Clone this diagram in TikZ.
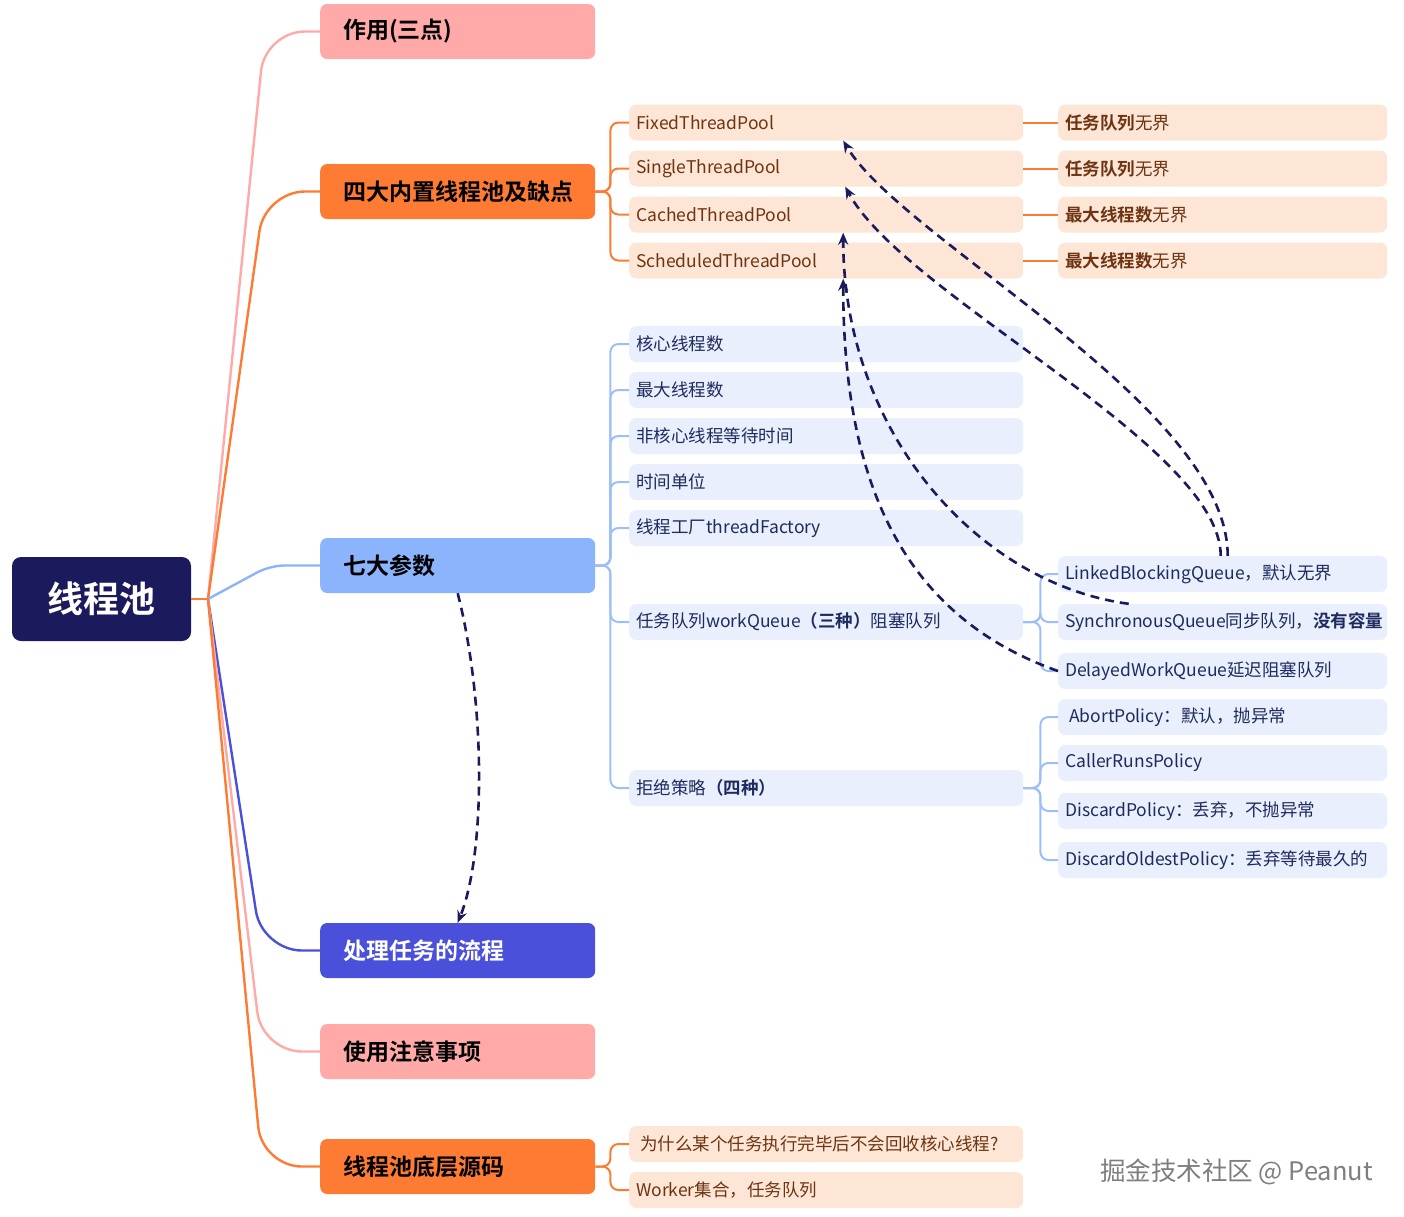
\documentclass[tikz,border=0pt]{standalone}
\usepackage{fontspec}
\setmainfont{Noto Sans CJK SC}[BoldFont={Noto Sans CJK SC Bold}]
\usepackage{xcolor}
\usepackage{tikz}
\usetikzlibrary{arrows.meta,positioning,calc}
\definecolor{tpnavy}{HTML}{1B1A5C}
\definecolor{tppink}{HTML}{FFAAA9}
\definecolor{tporange}{HTML}{FD7B32}
\definecolor{tpsky}{HTML}{8BB4FC}
\definecolor{tpviolet}{HTML}{4A50D9}
\definecolor{tppeachfill}{HTML}{FDE6D6}
\definecolor{tppeachtext}{HTML}{6E3411}
\definecolor{tpicefill}{HTML}{E9EFFD}
\definecolor{tpicetext}{HTML}{1E2B5E}
\definecolor{tpskyline}{HTML}{9DBEF8}
\definecolor{tpgray}{HTML}{7E7E7E}
\tikzset{
tpbox/.style={rectangle,rounded corners=7pt,anchor=west,align=left,inner ysep=0pt},
tproot/.style={rectangle,rounded corners=9pt,fill=tpnavy,text=white,font=\fontsize{36}{40}\selectfont\bfseries,minimum width=179pt,minimum height=84pt,align=center},
tpmain/.style={tpbox,font=\fontsize{23}{26}\selectfont\bfseries,text width=229pt,inner xsep=23pt,minimum height=55pt},
tpsub/.style={tpbox,font=\fontsize{17.5}{20}\selectfont,text width=380pt,inner xsep=7pt,minimum height=36pt},
tpleaf/.style={tpbox,font=\fontsize{17.5}{20}\selectfont,text width=315pt,inner xsep=7pt,minimum height=36pt},
tppeach/.style={fill=tppeachfill,text=tppeachtext},
tpice/.style={fill=tpicefill,text=tpicetext},
tpstem/.style={line width=2.4pt,rounded corners=40pt},
tpbranch/.style={line width=2pt,rounded corners=8pt},
tpflow/.style={draw=tpnavy,line width=2.6pt,dash pattern=on 9pt off 6pt,-{Stealth[length=12pt,width=10pt]}},
tpmark/.style={font=\fontsize{25.5}{30}\selectfont,text=tpgray,inner sep=0pt}
}
\begin{document}
\begin{tikzpicture}[x=1pt,y=-1pt]
\useasboundingbox (0,0) rectangle (1404,1216);
% root and first level
\node[tproot] (pool) at (101.5,599) {线程池};
\coordinate (hub) at (208,599);
\node[tpmain,fill=tppink] (role) at (320,31.5) {作用(三点)};
\node[tpmain,fill=tporange] (builtin) at (320,191.5) {四大内置线程池及缺点};
\node[tpmain,fill=tpsky] (params) at (320,565.5) {七大参数};
\node[tpmain,fill=tpviolet,text=white] (flow) at (320,950.5) {处理任务的流程};
\node[tpmain,fill=tppink] (notes) at (320,1051.5) {使用注意事项};
\node[tpmain,fill=tporange] (source) at (320,1166.5) {线程池底层源码};
% built-in pools
\node[tpsub,tppeach] (fixed) at (629,122.5) {FixedThreadPool};
\node[tpsub,tppeach] (single) at (629,168.5) {SingleThreadPool};
\node[tpsub,tppeach] (cached) at (629,214.5) {CachedThreadPool};
\node[tpsub,tppeach] (sched) at (629,260.5) {ScheduledThreadPool};
\node[tpleaf,tppeach] (fixedq) at (1058,122.5) {\textbf{任务队列}无界};
\node[tpleaf,tppeach] (singleq) at (1058,168.5) {\textbf{任务队列}无界};
\node[tpleaf,tppeach] (cachedq) at (1058,214.5) {\textbf{最大线程数}无界};
\node[tpleaf,tppeach] (schedq) at (1058,260.5) {\textbf{最大线程数}无界};
% seven parameters
\node[tpsub,tpice] (core) at (629,344) {核心线程数};
\node[tpsub,tpice] (maxth) at (629,390) {最大线程数};
\node[tpsub,tpice] (keep) at (629,436) {非核心线程等待时间};
\node[tpsub,tpice] (unit) at (629,482) {时间单位};
\node[tpsub,tpice] (factory) at (629,528) {线程工厂threadFactory};
\node[tpsub,tpice] (workq) at (629,622) {任务队列workQueue\textbf{（三种）}阻塞队列};
\node[tpsub,tpice] (reject) at (629,788) {拒绝策略\textbf{（四种）}};
\node[tpleaf,tpice] (linked) at (1058,574) {LinkedBlockingQueue，默认无界};
\node[tpleaf,tpice] (sync) at (1058,622) {SynchronousQueue同步队列，\textbf{没有容量}};
\node[tpleaf,tpice] (delayed) at (1058,671) {DelayedWorkQueue延迟阻塞队列};
\node[tpleaf,tpice] (abort) at (1058,717) {\hspace*{4pt}AbortPolicy：默认，抛异常};
\node[tpleaf,tpice] (caller) at (1058,763) {CallerRunsPolicy};
\node[tpleaf,tpice] (discard) at (1058,811) {DiscardPolicy：丢弃，不抛异常};
\node[tpleaf,tpice] (oldest) at (1058,860) {DiscardOldestPolicy：丢弃等待最久的};
% source code
\node[tpsub,tppeach] (why) at (629,1144) {\hspace*{4pt}为什么某个任务执行完毕后不会回收核心线程?};
\node[tpsub,tppeach] (worker) at (629,1190) {Worker集合，任务队列};
\node[tpmark,anchor=east] (mark) at (1373,1172) {掘金技术社区 @ Peanut};
% stems from the root
\draw[line width=2.4pt,draw=tporange] (pool.east) -- (hub);
\draw[tpstem,draw=tppink] (hub) -- ([xshift=-55pt]role.west) -- (role.west);
\draw[tpstem,draw=tporange] (hub) -- ([xshift=-55pt]builtin.west) -- (builtin.west);
\draw[tpstem,rounded corners=14pt,draw=tpsky] (hub) -- ([xshift=-50pt]params.west) -- (params.west);
\draw[tpstem,draw=tpviolet] (hub) -- ([xshift=-58pt]flow.west) -- (flow.west);
\draw[tpstem,draw=tppink] (hub) -- ([xshift=-58pt]notes.west) -- (notes.west);
\draw[tpstem,draw=tporange] (hub) -- ([xshift=-58pt]source.west) -- (source.west);
% branches
\foreach \kid in {fixed,single,cached,sched}
  \draw[tpbranch,draw=tporange] (builtin.east) -- ++(15,0) |- (\kid.west);
\foreach \kid/\note in {fixed/fixedq,single/singleq,cached/cachedq,sched/schedq}
  \draw[tpbranch,draw=tporange] (\kid.east) -- (\note.west);
\foreach \kid in {core,maxth,keep,unit,factory,workq,reject}
  \draw[tpbranch,draw=tpskyline] (params.east) -- ++(15,0) |- (\kid.west);
\foreach \kid in {linked,sync,delayed}
  \draw[tpbranch,draw=tpskyline] (workq.east) -- ++(17,0) |- (\kid.west);
\foreach \kid in {abort,caller,discard,oldest}
  \draw[tpbranch,draw=tpskyline] (reject.east) -- ++(17,0) |- (\kid.west);
\foreach \kid in {why,worker}
  \draw[tpbranch,draw=tporange] (source.east) -- ++(15,0) |- (\kid.west);
% dashed relations
\draw[tpflow] (params.south) .. controls +(28,110) and +(28,-70) .. (flow.north);
\draw[tpflow] ([xshift=5pt]linked.north) .. controls +(0,-150) and +(60,100) .. ([xshift=17pt]fixed.south);
\draw[tpflow] ([xshift=-2pt]linked.north) .. controls +(0,-110) and +(60,110) .. ([xshift=19pt]single.south);
\draw[tpflow] ([xshift=-94pt]sync.north) .. controls +(-150,-20) and +(0,200) .. ([xshift=17pt]cached.south);
\draw[tpflow] (delayed.west) .. controls +(-170,-60) and +(0,180) .. ([xshift=17pt]sched.south);
\end{tikzpicture}
\end{document}
